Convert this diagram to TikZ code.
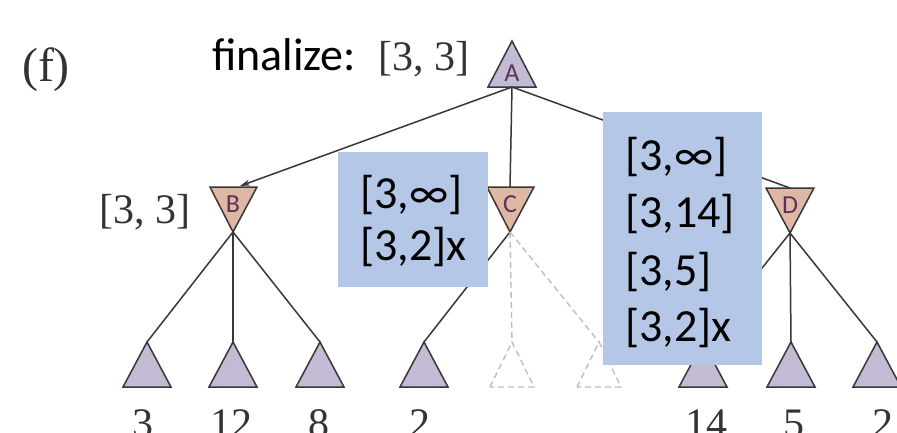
\documentclass[tikz,border=0pt]{standalone}
\usepackage{fontspec}
\setmainfont{Liberation Serif}
\newfontfamily\calfont{Carlito}
\usetikzlibrary{arrows.meta}
\definecolor{purp}{RGB}{195,186,212}
\definecolor{peach}{RGB}{222,184,164}
\definecolor{bluebx}{RGB}{180,199,231}
\definecolor{edgec}{RGB}{55,55,55}
\definecolor{dashc}{RGB}{190,190,190}
\definecolor{lettc}{RGB}{95,50,85}
\begin{document}
\begin{tikzpicture}[x=1pt,y=-1pt,
  tri/.style={draw=edgec,line width=1.5pt,line join=miter},
  dtri/.style={draw=dashc,line width=1.4pt,dash pattern=on 6pt off 4pt},
  edge/.style={draw=edgec,line width=1.5pt},
  dedge/.style={draw=dashc,line width=1.4pt,dash pattern=on 6pt off 4pt},
  lett/.style={font=\calfont\fontsize{26}{26}\selectfont,text=lettc,inner sep=0pt},
  serif/.style={font=\fontsize{42}{42}\selectfont,text=black!80,inner sep=0pt},
  cal/.style={font=\calfont\fontsize{46}{46}\selectfont,inner sep=0pt},
  bluebox/.style={fill=bluebx,draw=none,inner sep=0pt,anchor=north west},
  leaflab/.style={font=\fontsize{42}{42}\selectfont,text=black!80,inner sep=0pt,anchor=base}]
\useasboundingbox (0,0) rectangle (897,432);
\clip (0,0) rectangle (897,432);
\fill[white] (0,0) rectangle (897,432);

% named points
\coordinate (A) at (512,87);
\coordinate (Btop) at (240,186);
\coordinate (B) at (233,232);
\coordinate (Ctop) at (510,187);
\coordinate (C) at (510,232);
\coordinate (Dtop) at (790,188);
\coordinate (D) at (790,233);

% leaves
\foreach \n/\x in {l1/147,l2/233,l3/320,l4/424,l7/703,l8/791,l9/877}{
  \coordinate (\n) at (\x,342);
  \draw[tri,fill=purp] (\x-24,387) -- (\x,342) -- (\x+24,387) -- cycle;
}
\foreach \n/\x in {l5/512,l6/599}{
  \coordinate (\n) at (\x,342);
  \draw[dtri] (\x-22,387) -- (\x,342) -- (\x+22,387) -- cycle;
}

% inner triangles
\draw[tri,fill=purp] (488,87) -- (512,41) -- (536,87) -- cycle;
\draw[tri,fill=peach] (210,187) -- (257,187) -- (233,232) -- cycle;
\draw[tri,fill=peach] (487,187) -- (534,187) -- (510,232) -- cycle;
\draw[tri,fill=peach] (766,188) -- (814,188) -- (790,233) -- cycle;

% edges
\draw[edge,-{Stealth[length=10pt,width=6pt]}] (A) -- (Btop);
\draw[edge] (A) -- (Ctop);
\draw[edge] (A) -- (Dtop);
\draw[edge] (B) -- (l1);
\draw[edge] (B) -- (l2);
\draw[edge] (B) -- (l3);
\draw[edge] (C) -- (l4);
\draw[dedge] (C) -- (l5);
\draw[dedge] (C) -- (l6);
\draw[edge] (D) -- (l7);
\draw[edge] (D) -- (l8);
\draw[edge] (D) -- (l9);

% letters
\node[lett] (Al) at (512,73) {A};
\node[lett] (Bl) at (233,204) {B};
\node[lett] (Cl) at (510,204) {C};
\node[lett] (Dl) at (790,205) {D};

% labels
\node[font=\fontsize{48}{48}\selectfont,text=black!80,inner sep=0pt] (f) at (46,70) {(f)};
\node[cal,anchor=base west] (fin) at (212,70) {finalize:};
\node[serif,anchor=base west] (finv) at (378,70) {[3, 3]};
\node[serif] (Bv) at (145,212) {[3, 3]};

% leaf values
\node[leaflab] (v1) at (143,437) {3};
\node[leaflab] (v2) at (231,437) {12};
\node[leaflab] (v3) at (319,437) {8};
\node[leaflab] (v4) at (420,437) {2};
\node[leaflab] (v7) at (706,437) {14};
\node[leaflab] (v8) at (794,437) {5};
\node[leaflab] (v9) at (883,437) {2};

% blue boxes
\node[bluebox,minimum width=150pt,minimum height=135pt] (box1) at (338,152) {};
\node[bluebox,minimum width=159pt,minimum height=253pt] (box2) at (603,112) {};
\node[cal,anchor=base west] (b1a) at (360,208) {[3,∞]};
\node[cal,anchor=base west] (b1b) at (360,260) {[3,2]x};
\node[cal,anchor=base west] (b2a) at (625,170) {[3,∞]};
\node[cal,anchor=base west] (b2b) at (625,227) {[3,14]};
\node[cal,anchor=base west] (b2c) at (625,285) {[3,5]};
\node[cal,anchor=base west] (b2d) at (625,341) {[3,2]x};
\end{tikzpicture}
\end{document}
